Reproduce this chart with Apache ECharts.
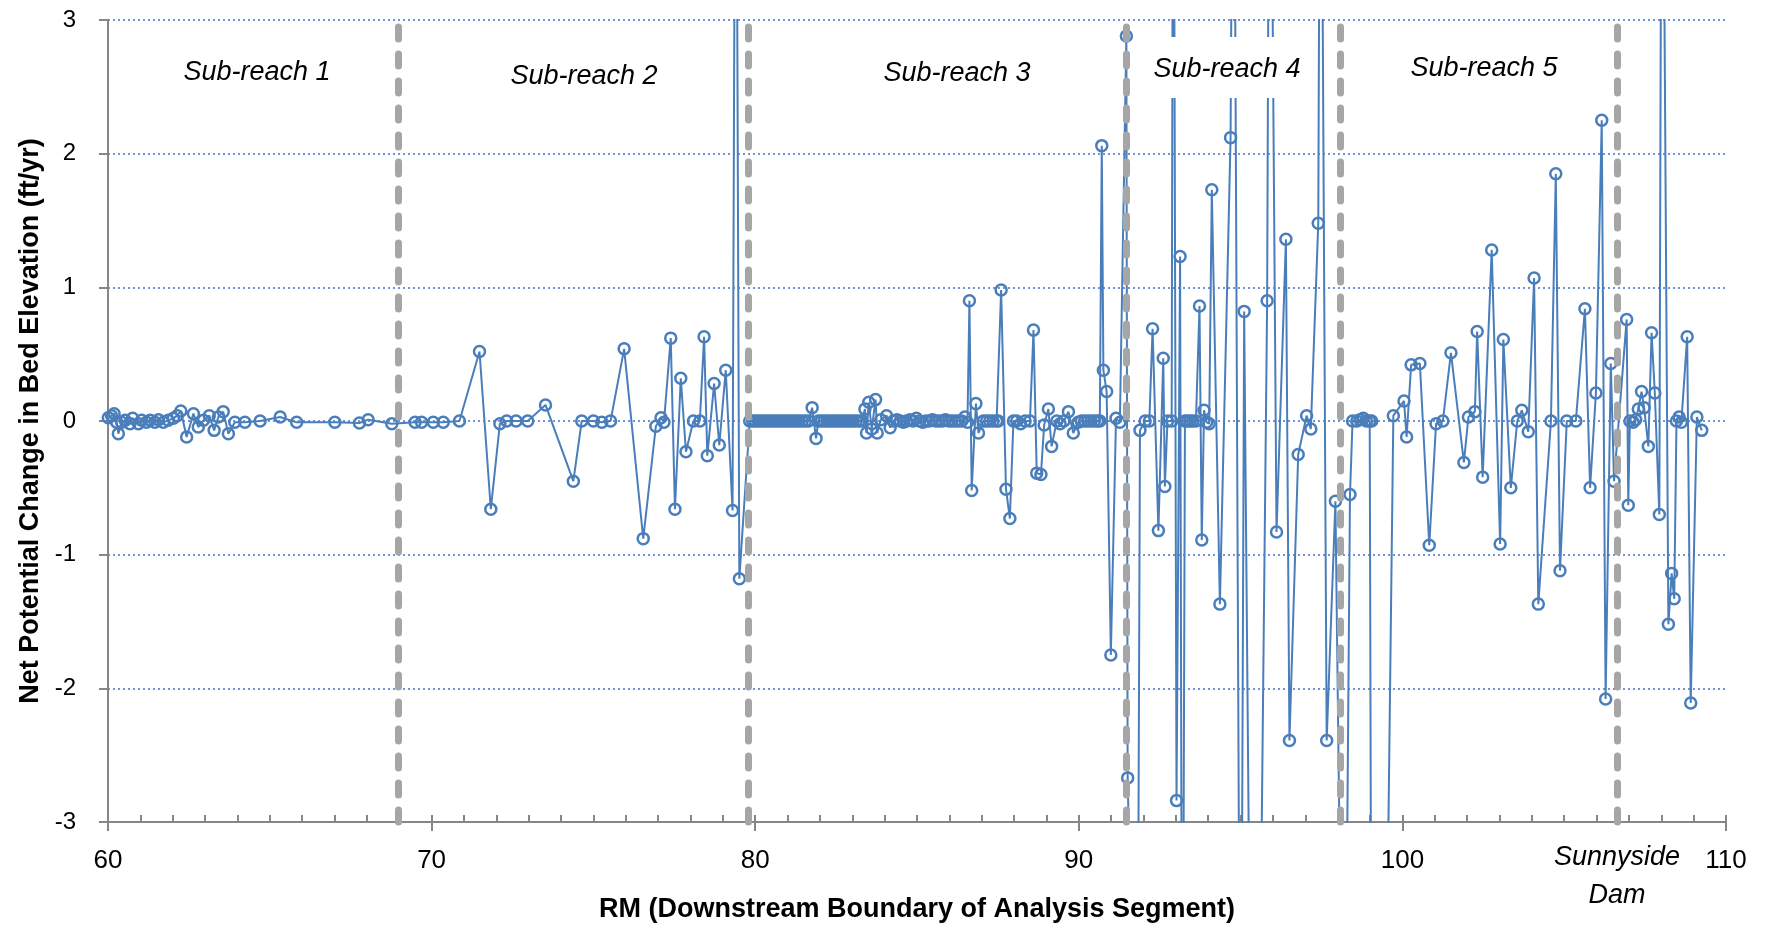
<!DOCTYPE html>
<html>
<head>
<meta charset="utf-8">
<title>Net Potential Change in Bed Elevation</title>
<script src="https://cdn.jsdelivr.net/npm/echarts@6/dist/echarts.min.js"></script>
<style>
  html, body { margin: 0; padding: 0; background: #fff; }
  #chart { width: 1769px; height: 928px; }
</style>
</head>
<body>
<div id="chart"></div>
<script>
// river mile of each analysis segment (downstream boundary)
var rm = [
  60.01, 60.11, 60.19, 60.27, 60.32, 60.42, 60.53, 60.68, 60.76, 60.94,
  61.04, 61.19, 61.30, 61.45, 61.56, 61.71, 61.86, 62.02, 62.14, 62.25,
  62.43, 62.64, 62.79, 62.95, 63.13, 63.28, 63.41, 63.56, 63.72, 63.92,
  64.23, 64.70, 65.32, 65.83, 67.01, 67.77, 68.04, 68.77,
  // sub-reach 2
  69.49, 69.69, 70.05, 70.36, 70.86, 71.48, 71.83, 72.11, 72.32, 72.61,
  72.97, 73.52, 74.38, 74.64, 75.00, 75.26, 75.53, 75.95, 76.54, 76.93,
  77.09, 77.18, 77.39, 77.52, 77.70, 77.86, 78.09, 78.29, 78.42, 78.52,
  78.73, 78.89, 79.09, 79.30, 79.40, 79.51,
  // sub-reach 3
  79.83, 79.92, 80.01, 80.10, 80.19, 80.28, 80.37, 80.46, 80.55, 80.64,
  80.73, 80.82, 80.91, 81.00, 81.09, 81.18, 81.27, 81.36, 81.45, 81.55,
  81.65, 81.76, 81.88, 81.95, 82.04, 82.13, 82.22, 82.31, 82.40, 82.49,
  82.58, 82.67, 82.76, 82.85, 82.94, 83.03, 83.12, 83.21, 83.30, 83.39,
  83.44, 83.51, 83.60, 83.72, 83.77, 83.88, 84.06, 84.17, 84.27, 84.38,
  84.48, 84.58, 84.68, 84.78, 84.88, 84.98, 85.08, 85.18, 85.28, 85.38,
  85.48, 85.58, 85.68, 85.78, 85.88, 85.98, 86.08, 86.18, 86.28, 86.38,
  86.48, 86.56, 86.62, 86.69, 86.82, 86.90, 87.05, 87.15, 87.25, 87.35,
  87.46, 87.51, 87.60, 87.75, 87.87, 87.98, 88.08, 88.20, 88.34, 88.49,
  88.60, 88.70, 88.83, 88.93, 89.06, 89.16, 89.32, 89.42, 89.54, 89.68,
  89.83, 89.98, 90.08, 90.18, 90.28, 90.38, 90.48, 90.58, 90.65, 90.71,
  90.76, 90.86, 90.99, 91.15, 91.27, 91.47, 91.51, 91.80,
  // sub-reach 4
  91.89, 92.05, 92.18, 92.28, 92.46, 92.61, 92.66, 92.74, 92.87, 92.92,
  93.02, 93.13, 93.20, 93.28, 93.36, 93.44, 93.52, 93.62, 93.73, 93.80,
  93.87, 93.95, 94.03, 94.11, 94.36, 94.69, 94.78, 95.00, 95.11, 95.32,
  95.57, 95.82, 95.90, 96.11, 96.40, 96.51, 96.78, 97.04, 97.17, 97.40,
  97.47, 97.66, 97.93, 98.20,
  // sub-reach 5
  98.38, 98.46, 98.59, 98.69, 98.79, 98.89, 98.99, 99.05, 99.08, 99.52,
  99.72, 100.05, 100.13, 100.27, 100.54, 100.83, 101.04, 101.25, 101.50, 101.90,
  102.04, 102.24, 102.31, 102.48, 102.76, 103.02, 103.12, 103.35, 103.55, 103.69,
  103.89, 104.07, 104.20, 104.59, 104.74, 104.87, 105.08, 105.36, 105.64, 105.80,
  105.98, 106.16, 106.28, 106.44, 106.54, 106.93, 106.98, 107.03, 107.13, 107.21,
  107.29, 107.39, 107.47, 107.60, 107.70, 107.80, 107.94, 108.02, 108.22, 108.32,
  108.40, 108.47, 108.55, 108.62, 108.80, 108.91, 109.10, 109.25
];

// net potential change in bed elevation, ft/yr (values beyond +-3 run off the chart)
var change = [
  0.025, 0.04, 0.055, -0.01, -0.095, -0.01, 0.005, -0.02, 0.02, -0.02,
  0.005, -0.01, 0.005, -0.01, 0.01, -0.01, 0.005, 0.02, 0.04, 0.075,
  -0.12, 0.055, -0.045, 0.005, 0.04, -0.07, 0.03, 0.07, -0.095, -0.01,
  -0.01, 0, 0.03, -0.01, -0.01, -0.015, 0.01, -0.02,
  // sub-reach 2
  -0.01, -0.01, -0.01, -0.01, 0, 0.52, -0.66, -0.02, 0, 0,
  0, 0.12, -0.45, 0, 0, -0.01, 0, 0.54, -0.88, -0.04,
  0.025, -0.01, 0.62, -0.66, 0.32, -0.23, 0, 0, 0.63, -0.26,
  0.28, -0.18, 0.38, -0.67, 6, -1.18,
  // sub-reach 3
  0, 0, 0, 0, 0, 0, 0, 0, 0, 0,
  0, 0, 0, 0, 0, 0, 0, 0, 0, 0,
  0, 0.10, -0.13, 0, 0, 0, 0, 0, 0, 0,
  0, 0, 0, 0, 0, 0, 0, 0, 0, 0.09,
  -0.09, 0.14, -0.06, 0.16, -0.09, 0.01, 0.04, -0.05, 0, 0.01,
  0, -0.01, 0, 0.01, 0, 0.02, 0, -0.01, 0, 0,
  0.01, 0, 0, 0, 0.01, 0, 0, 0, 0, 0,
  0.03, -0.01, 0.90, -0.52, 0.13, -0.09, 0, 0, 0, 0,
  0, 0, 0.98, -0.51, -0.73, 0, 0, -0.02, 0, 0,
  0.68, -0.39, -0.40, -0.03, 0.09, -0.19, 0, -0.02, 0, 0.07,
  -0.09, -0.01, 0, 0, 0, 0, 0, 0, 0, 2.06,
  0.38, 0.22, -1.75, 0.02, -0.01, 2.88, -2.67, -6,
  // sub-reach 4
  -0.07, 0, 0, 0.69, -0.82, 0.47, -0.49, 0, 0, 6,
  -2.84, 1.23, -6, 0, 0, 0, 0, 0, 0.86, -0.89,
  0.08, -0.01, -0.02, 1.73, -1.37, 2.12, 6, -6, 0.82, -5,
  -5, 0.90, 6, -0.83, 1.36, -2.39, -0.25, 0.04, -0.06, 1.48,
  6, -2.39, -0.60, -6,
  // sub-reach 5
  -0.55, 0, 0, 0.01, 0.02, 0, 0, 0, -8, -4,
  0.04, 0.15, -0.12, 0.42, 0.43, -0.93, -0.02, 0, 0.51, -0.31,
  0.03, 0.07, 0.67, -0.42, 1.28, -0.92, 0.61, -0.50, 0, 0.08,
  -0.08, 1.07, -1.37, 0, 1.85, -1.12, 0, 0, 0.84, -0.50,
  0.21, 2.25, -2.08, 0.43, -0.45, 0.76, -0.63, 0, -0.01, 0.01,
  0.09, 0.22, 0.10, -0.19, 0.66, 0.21, -0.70, 6, -1.52, -1.14,
  -1.33, 0, 0.03, -0.01, 0.63, -2.11, 0.03, -0.07
];

// sub-reach boundaries (RM)
var boundaries = [68.98, 79.8, 91.46, 98.08, 106.64];

var yTicks = [-3, -2, -1, 0, 1, 2, 3];

var blue = '#4A7EBB';
var font = '"Liberation Sans", Arial, sans-serif';

var points = rm.map(function (x, i) { return [x, change[i]]; });

var myChart = echarts.init(document.getElementById('chart'));

function label(text, x, y) {
    return {
        type: 'text',
        z: 20,
        style: {
            text: text,
            x: x,
            y: y,
            font: 'italic 27px ' + font,
            fill: '#000',
            textAlign: 'center',
            textVerticalAlign: 'middle'
        }
    };
}

option = {
    animation: false,
    backgroundColor: '#fff',
    grid: {
        left: 108,
        right: 43,
        top: 20,
        bottom: 106
    },
    xAxis: [
        {
            type: 'value',
            position: 'bottom',
            min: 60,
            max: 110,
            interval: 10,
            name: 'RM (Downstream Boundary of Analysis Segment)',
            nameLocation: 'middle',
            nameGap: 74,
            nameTextStyle: {
                fontFamily: font,
                fontWeight: 'bold',
                fontSize: 27,
                color: '#000'
            },
            axisLine: {
                onZero: false,
                lineStyle: { color: '#868686', width: 2 }
            },
            axisTick: {
                length: 9,
                lineStyle: { color: '#868686', width: 2 }
            },
            axisLabel: {
                margin: 26,
                fontFamily: font,
                fontSize: 26,
                color: '#000'
            },
            splitLine: { show: false }
        },
        {
            // minor ticks every mile
            type: 'value',
            position: 'bottom',
            min: 60,
            max: 110,
            interval: 1,
            axisLine: { show: false, onZero: false },
            axisTick: {
                inside: true,
                length: 7,
                lineStyle: { color: '#868686', width: 2 }
            },
            axisLabel: { show: false },
            splitLine: { show: false }
        }
    ],
    yAxis: {
        type: 'value',
        min: yTicks[0],
        max: yTicks[yTicks.length - 1],
        interval: 1,
        name: 'Net Potential Change in Bed Elevation (ft/yr)',
        nameLocation: 'middle',
        nameGap: 64,
        nameTextStyle: {
            fontFamily: font,
            fontWeight: 'bold',
            fontSize: 27,
            color: '#000'
        },
        axisLine: {
            show: true,
            lineStyle: { color: '#868686', width: 2 }
        },
        axisTick: {
            show: true,
            length: 9,
            lineStyle: { color: '#868686', width: 2 }
        },
        axisLabel: {
            margin: 32,
            fontFamily: font,
            fontSize: 24,
            color: '#000'
        },
        splitLine: {
            lineStyle: { color: '#4472C4', type: [2, 3], width: 1.5 }
        }
    },
    graphic: [
        // white box behind the Sub-reach 4 label
        {
            type: 'rect',
            z: 15,
            shape: { x: 1137, y: 37, width: 172, height: 61 },
            style: { fill: '#fff' }
        },
        label('Sub-reach 1', 257, 72),
        label('Sub-reach 2', 584, 76),
        label('Sub-reach 3', 957, 73),
        label('Sub-reach 4', 1227, 69),
        label('Sub-reach 5', 1484, 68),
        label('Sunnyside', 1617, 857),
        label('Dam', 1617, 895)
    ],
    series: [
        {
            type: 'line',
            data: points,
            color: blue,
            symbol: 'circle',
            symbolSize: 11,
            showAllSymbol: true,
            clip: true,
            lineStyle: { color: blue, width: 2 },
            itemStyle: {
                color: 'rgba(255,255,255,0)',
                borderColor: blue,
                borderWidth: 2.5
            },
            emphasis: { disabled: true },
            markLine: {
                silent: true,
                symbol: ['none', 'none'],
                label: { show: false },
                lineStyle: {
                    color: '#A6A6A6',
                    width: 7,
                    type: [12, 15],
                    cap: 'round'
                },
                emphasis: { disabled: true },
                data: boundaries.map(function (v) { return { xAxis: v }; })
            }
        }
    ]
};
myChart.setOption(option);
</script>
</body>
</html>
